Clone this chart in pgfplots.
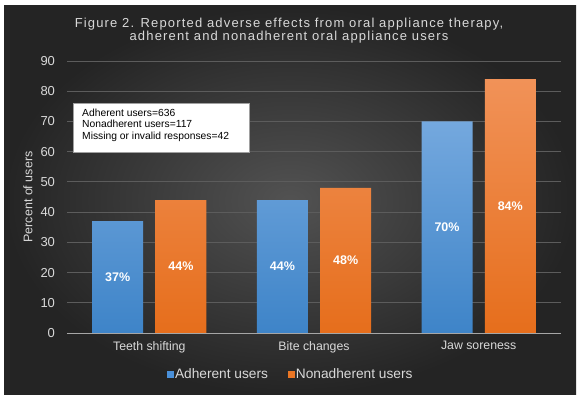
\documentclass[border=0pt]{standalone}
\usepackage{fontspec}
\setmainfont{Liberation Sans}
\newfontfamily\titlefont[LetterSpace=9]{Liberation Sans}
\usepackage{pgfplots}
\pgfplotsset{compat=1.18}
\definecolor{txt}{RGB}{217,217,217}
\definecolor{bgin}{RGB}{82,82,82}
\definecolor{bgout}{RGB}{36,36,36}
\definecolor{gridc}{RGB}{92,92,92}
\definecolor{axisgray}{RGB}{166,166,166}
\definecolor{blueT}{RGB}{116,168,222}
\definecolor{blueB}{RGB}{62,132,200}
\definecolor{orT}{RGB}{241,146,88}
\definecolor{orB}{RGB}{230,110,28}
\definecolor{legblue}{RGB}{74,144,217}
\definecolor{legor}{RGB}{234,118,36}
\definecolor{boxborder}{RGB}{160,160,160}
\begin{document}
\begin{tikzpicture}
\fill[white] (0pt,0pt) rectangle (582pt,399pt);
\shade[inner color=bgin, outer color=bgout] (4pt,4pt) rectangle (576pt,393pt);
\node[anchor=base, inner sep=0pt, text=txt, font=\titlefont\fontsize{13}{15}\selectfont] at (289pt,371.3pt) {Figure 2. Reported adverse effects from oral appliance therapy,};
\node[anchor=base, inner sep=0pt, text=txt, font=\titlefont\fontsize{13}{15}\selectfont] at (289pt,358pt) {adherent and nonadherent oral appliance users};
\begin{axis}[
  at={(67pt,66pt)}, anchor=south west, scale only axis,
  width=494pt, height=272pt,
  xmin=-0.5, xmax=2.5, ymin=0, ymax=90,
  xtick={0,1,2}, xticklabels={Teeth shifting, Bite changes, Jaw soreness},
  ytick={0,10,...,90},
  axis x line*=bottom, axis y line*=left,
  x axis line style={draw=axisgray, line width=0.8pt, -},
  y axis line style={draw=none, -},
  major tick length=0pt,
  ymajorgrids, grid style={gridc, line width=0.8pt},
  tick label style={text=txt},
  /pgf/number format/assume math mode=true,
  yticklabel style={font=\fontsize{13}{15}\selectfont, xshift=-8.5pt},
  xticklabel style={font=\fontsize{12.3}{14}\selectfont, yshift=-5pt},
  ylabel={Percent of users},
  every axis y label/.style={at={(axis description cs:-0.079,0.5)}, rotate=90, anchor=center, font=\fontsize{12.5}{14}\selectfont, text=txt},
  legend columns=2,
  legend style={at={(axis description cs:0.453,-0.151)}, anchor=center, draw=none, fill=none, text=txt, font=\fontsize{13.7}{16}\selectfont, /tikz/every even column/.append style={column sep=18pt}},
  clip=false,
]
\addplot[ybar, bar width=0.31, bar shift=-0.192, draw=none, top color=blueT, bottom color=blueB, forget plot] coordinates {(0,37) (1,44) (2,70)};
\addplot[ybar, bar width=0.31, bar shift=0.192, draw=none, top color=orT, bottom color=orB, forget plot] coordinates {(0,44) (1,48) (2,84)};
\addplot[ybar, bar width=0.31, bar shift=-0.192, draw=none, fill=none, forget plot,
  nodes near coords={\pgfmathprintnumber{\pgfplotspointmeta}\%},
  visualization depends on=y \as \rawy,
  every node near coord/.append style={anchor=center, text=white, font=\bfseries\fontsize{12.5}{14}\selectfont, shift={(axis direction cs:-0.192,-\rawy/2)}}]
  coordinates {(0,37) (1,44) (2,70)};
\addplot[ybar, bar width=0.31, bar shift=0.192, draw=none, fill=none, forget plot,
  nodes near coords={\pgfmathprintnumber{\pgfplotspointmeta}\%},
  visualization depends on=y \as \rawy,
  every node near coord/.append style={anchor=center, text=white, font=\bfseries\fontsize{12.5}{14}\selectfont, shift={(axis direction cs:0.192,-\rawy/2)}}]
  coordinates {(0,44) (1,48) (2,84)};
\addlegendimage{legend image code/.code={\fill[legblue] (0pt,-2.8pt) rectangle (5.6pt,2.8pt);}}
\addlegendentry{Adherent users}
\addlegendimage{legend image code/.code={\fill[legor] (0pt,-2.8pt) rectangle (5.6pt,2.8pt);}}
\addlegendentry{Nonadherent users}
\end{axis}
\filldraw[fill=white, draw=boxborder, line width=0.6pt] (73pt,247pt) rectangle (249pt,296pt);
\node[anchor=base west, inner sep=0pt, font=\fontsize{10.3}{12}\selectfont] at (82pt,282pt) {Adherent users=636};
\node[anchor=base west, inner sep=0pt, font=\fontsize{10.3}{12}\selectfont] at (82pt,271.5pt) {Nonadherent users=117};
\node[anchor=base west, inner sep=0pt, font=\fontsize{10.3}{12}\selectfont] at (82pt,259pt) {Missing or invalid responses=42};
\end{tikzpicture}
\end{document}
